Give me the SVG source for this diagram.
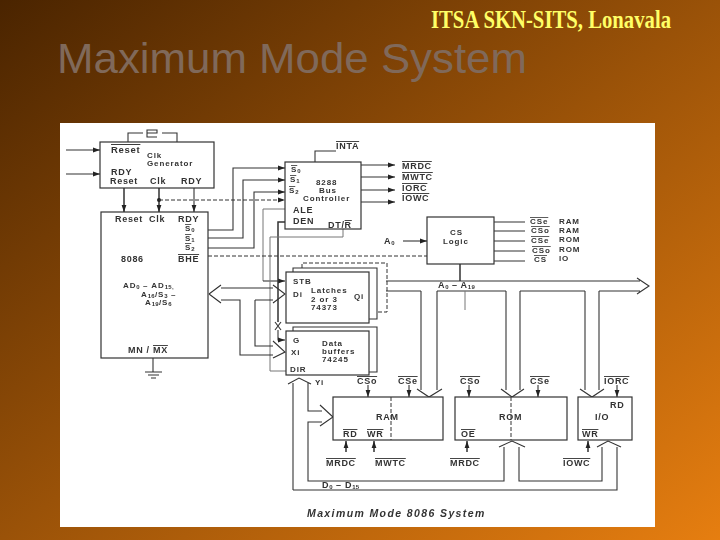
<svg xmlns="http://www.w3.org/2000/svg" width="720" height="540" viewBox="0 0 720 540">
<defs>
<linearGradient id="bg" x1="0" y1="0" x2="1" y2="1"><stop offset="0" stop-color="#4a2400"/><stop offset="0.5" stop-color="#9a5208"/><stop offset="1" stop-color="#e67e10"/></linearGradient>
<filter id="soft" x="-2%" y="-2%" width="104%" height="104%"><feGaussianBlur stdDeviation="0.35"/></filter>
<marker id="a" markerWidth="8" markerHeight="6" refX="7" refY="3" orient="auto" markerUnits="userSpaceOnUse"><path d="M0,0.6 L7,3 L0,5.4 Z" fill="#222"/></marker>
</defs>
<style>
text{font-family:"Liberation Sans",Arial,sans-serif;fill:#333;font-size:9px;letter-spacing:.7px;font-weight:bold;stroke:none}
.n{font-size:8px;letter-spacing:.9px}
.o{text-decoration:overline}
.s{font-size:6px;letter-spacing:.3px}
.box{fill:#fff;stroke:#333;stroke-width:1.2}
.l{fill:none;stroke:#333;stroke-width:1.1}
.t{fill:none;stroke:#333;stroke-width:1.5}
.d{fill:none;stroke:#333;stroke-width:1;stroke-dasharray:4 2}
.g{fill:none;stroke:#777;stroke-width:1}
.ar{marker-end:url(#a)}
</style>
<rect width="720" height="540" fill="url(#bg)"/>
<text x="431" y="28" textLength="240" lengthAdjust="spacingAndGlyphs" style="font-family:'Liberation Serif',serif;font-size:25px;fill:#ffff66;letter-spacing:0">ITSA SKN-SITS, Lonavala</text>
<text x="57" y="73" textLength="470" lengthAdjust="spacingAndGlyphs" style="font-size:43px;fill:#80695a;font-weight:normal;letter-spacing:0">Maximum Mode System</text>
<rect x="60" y="123" width="595" height="404" fill="#fff"/>
<g filter="url(#soft)">
<g id="connectors">
<path class="l" d="M128,142V133H143M147,133H157V130H147V137H157M162,133H177V142"/>
<path class="l ar" d="M66,150H100"/>
<path class="l ar" d="M66,174H100"/>
<path class="t ar" d="M124,188V212"/>
<path class="t ar" d="M159,188V212"/>
<path class="l ar" d="M194,188V212"/>
<circle cx="159" cy="200" r="2" fill="#222"/>
<path class="d ar" d="M159,200H285"/>
<path class="l" d="M315,162V151H336"/>
<path class="l ar" d="M361,165H395"/>
<path class="l ar" d="M361,177H395"/>
<path class="l ar" d="M361,190H395"/>
<path class="l ar" d="M361,202H395"/>
<path class="l ar" d="M208,230H233V168H285"/>
<path class="l ar" d="M208,238H243V180H285"/>
<path class="l ar" d="M208,248H254V192H285"/>
<path class="g" d="M285,209H263V281"/>
<path class="l ar" d="M263,281H285"/>
<path class="t" d="M285,222H278V322"/>
<path class="l" d="M275,322L281,330M281,322L275,330"/>
<path class="l ar" d="M278,330V340H285"/>
<path class="g" d="M343,229V237H270V371H287"/>
<path class="d" d="M208,256H427"/>
<path class="l" d="M209,294L221,285M221,288H273M209,294L221,303M221,300H240V355H273M255,300H273M273,285L285,294L273,303M255,300V346H273"/>
<path class="l" d="M273,341L285,352L273,358"/>
<path class="l" d="M386,281H640M386,291H421M437,291H506M520,291H585M599,291H640M637,278L649,286L637,294"/>
<path class="l ar" d="M403,241H427"/>
<path class="l" d="M494,222H525M494,231H525M494,241H525M494,251H525M494,261H525"/>
<path class="t" d="M460,264V281"/>
<path class="g" d="M465,291V310"/>
<path class="l" d="M421,291V390M437,291V390M417,389L429,397L442,389"/>
<path class="l" d="M506,291V390M520,291V390M501,389L512,397L524,389"/>
<path class="l" d="M585,291V390M599,291V390M580,389L592,397L604,389"/>
<path class="l" d="M293,490V383M288,384L299,378L311,384M308,383V411H322M320,405L333,417L320,426M322,422H308V481H504V447M499,447L512,441L525,447M519,447V481H602V447M597,447L608,441L621,447M617,447V490H293"/>
<path class="l ar" d="M368,385V397"/>
<path class="l ar" d="M409,385V397"/>
<path class="l ar" d="M469,385V397"/>
<path class="l ar" d="M538,385V397"/>
<path class="l ar" d="M617,385V397"/>
<path class="t ar" d="M346,452V441"/>
<path class="t ar" d="M374,452V441"/>
<path class="t ar" d="M467,452V441"/>
<path class="t ar" d="M588,452V441"/>
<path class="l" d="M153,358V372M145,372H162M148,375H159M151,378H156"/>
</g>
<g id="clock-generator">
<rect class="box" x="100" y="142" width="114" height="46"/>
<text x="111" y="153" style="font-size:9.5px"><tspan class="o">Reset</tspan></text>
<text class="n" x="147" y="158">Clk</text>
<text class="n" x="147" y="166">Generator</text>
<text x="111" y="175">RDY</text>
<text x="110" y="184">Reset</text>
<text x="150" y="184">Clk</text>
<text x="181" y="184">RDY</text>
</g>
<g id="cpu-8086">
<rect class="box" x="101" y="212" width="107" height="146"/>
<text x="115" y="222">Reset</text>
<text x="149" y="222">Clk</text>
<text x="178" y="222">RDY</text>
<text class="n" x="185" y="231"><tspan class="o">S</tspan><tspan class="s" dy="1">0</tspan></text>
<text class="n" x="185" y="241"><tspan class="o">S</tspan><tspan class="s" dy="1">1</tspan></text>
<text class="n" x="185" y="250"><tspan class="o">S</tspan><tspan class="s" dy="1">2</tspan></text>
<text x="178" y="262"><tspan class="o">BHE</tspan></text>
<text x="121" y="262">8086</text>
<text class="n" x="123" y="288">AD<tspan class="s" dy="1">0</tspan><tspan dy="-1"> – AD</tspan><tspan class="s" dy="1">15,</tspan></text>
<text class="n" x="141" y="297">A<tspan class="s" dy="1">16</tspan><tspan dy="-1">/S</tspan><tspan class="s" dy="1">3</tspan><tspan dy="-1"> –</tspan></text>
<text class="n" x="145" y="305">A<tspan class="s" dy="1">19</tspan><tspan dy="-1">/S</tspan><tspan class="s" dy="1">6</tspan></text>
<text x="128" y="353">MN / <tspan class="o">MX</tspan></text>
</g>
<g id="bus-controller-8288">
<rect class="box" x="285" y="162" width="76" height="67"/>
<text x="336" y="149"><tspan class="o">INTA</tspan></text>
<text class="n" x="291" y="172"><tspan class="o">S</tspan><tspan class="s" dy="1">0</tspan></text>
<text class="n" x="290" y="182"><tspan class="o">S</tspan><tspan class="s" dy="1">1</tspan></text>
<text class="n" x="289" y="193"><tspan class="o">S</tspan><tspan class="s" dy="1">2</tspan></text>
<text class="n" x="316" y="185">8288</text>
<text class="n" x="319" y="193">Bus</text>
<text class="n" x="303" y="201">Controller</text>
<text x="293" y="213">ALE</text>
<text x="293" y="224">DEN</text>
<text x="328" y="228">DT/<tspan class="o">R</tspan></text>
<text x="402" y="169"><tspan class="o">MRDC</tspan></text>
<text x="402" y="180"><tspan class="o">MWTC</tspan></text>
<text x="402" y="191"><tspan class="o">IORC</tspan></text>
<text x="402" y="201"><tspan class="o">IOWC</tspan></text>
</g>
<g id="cs-logic">
<rect class="box" x="427" y="217" width="67" height="47"/>
<text class="n" x="450" y="235">CS</text>
<text class="n" x="443" y="244">Logic</text>
<text x="384" y="244">A<tspan class="s" dy="1">0</tspan></text>
<text class="n" x="530" y="224"><tspan class="o">CSe</tspan></text>
<text class="n" x="559" y="224">RAM</text>
<text class="n" x="531" y="233"><tspan class="o">CSo</tspan></text>
<text class="n" x="559" y="233">RAM</text>
<text class="n" x="531" y="243"><tspan class="o">CSe</tspan></text>
<text class="n" x="559" y="242">ROM</text>
<text class="n" x="532" y="253"><tspan class="o">CSo</tspan></text>
<text class="n" x="559" y="252">ROM</text>
<text class="n" x="534" y="262"><tspan class="o">CS</tspan></text>
<text class="n" x="559" y="261">IO</text>
<text x="438" y="288">A<tspan class="s" dy="1">0</tspan><tspan dy="-1"> – A</tspan><tspan class="s" dy="1">19</tspan></text>
</g>
<g id="latches-74373">
<path class="d" d="M302,268V263H387V312H377"/>
<path class="l" d="M293,272V268H377V319H369"/>
<rect class="box" x="286" y="272" width="83" height="51"/>
<text class="n" x="293" y="284">STB</text>
<text class="n" x="293" y="297">Di</text>
<text class="n" x="311" y="293">Latches</text>
<text class="n" x="311" y="302">2 or 3</text>
<text class="n" x="311" y="310">74373</text>
<text class="n" x="354" y="299">Qi</text>
</g>
<g id="data-buffers-74245">
<path class="l" d="M293,331V327H377V372H369"/>
<rect class="box" x="286" y="331" width="83" height="44"/>
<text class="n" x="293" y="343">G</text>
<text class="n" x="291" y="355">Xi</text>
<text class="n" x="322" y="346">Data</text>
<text class="n" x="322" y="354">buffers</text>
<text class="n" x="322" y="362">74245</text>
<text class="n" x="290" y="372">DIR</text>
<text class="n" x="315" y="385">Yi</text>
</g>
<g id="ram">
<rect class="box" x="333" y="397" width="110" height="43"/>
<path class="d" d="M391,397V440"/>
<text x="376" y="420">RAM</text>
<text x="343" y="437"><tspan class="o">RD</tspan></text>
<text x="367" y="437"><tspan class="o">WR</tspan></text>
<text x="357" y="384"><tspan class="o">CSo</tspan></text>
<text x="398" y="384"><tspan class="o">CSe</tspan></text>
<text x="326" y="466"><tspan class="o">MRDC</tspan></text>
<text x="375" y="466"><tspan class="o">MWTC</tspan></text>
</g>
<g id="rom">
<rect class="box" x="455" y="397" width="112" height="43"/>
<path class="d" d="M511,397V440"/>
<text x="499" y="420">ROM</text>
<text x="461" y="437"><tspan class="o">OE</tspan></text>
<text x="460" y="384"><tspan class="o">CSo</tspan></text>
<text x="530" y="384"><tspan class="o">CSe</tspan></text>
<text x="450" y="466"><tspan class="o">MRDC</tspan></text>
</g>
<g id="io">
<rect class="box" x="578" y="397" width="54" height="43"/>
<text x="595" y="420">I/O</text>
<text x="610" y="408">RD</text>
<text x="582" y="437"><tspan class="o">WR</tspan></text>
<text x="604" y="384"><tspan class="o">IORC</tspan></text>
<text x="563" y="466"><tspan class="o">IOWC</tspan></text>
</g>
<text x="322" y="488">D<tspan class="s" dy="1">0</tspan><tspan dy="-1"> – D</tspan><tspan class="s" dy="1">15</tspan></text>
<text x="307" y="517" textLength="178" style="font-style:italic;font-size:10.5px">Maximum Mode 8086 System</text>
</g>
</svg>
